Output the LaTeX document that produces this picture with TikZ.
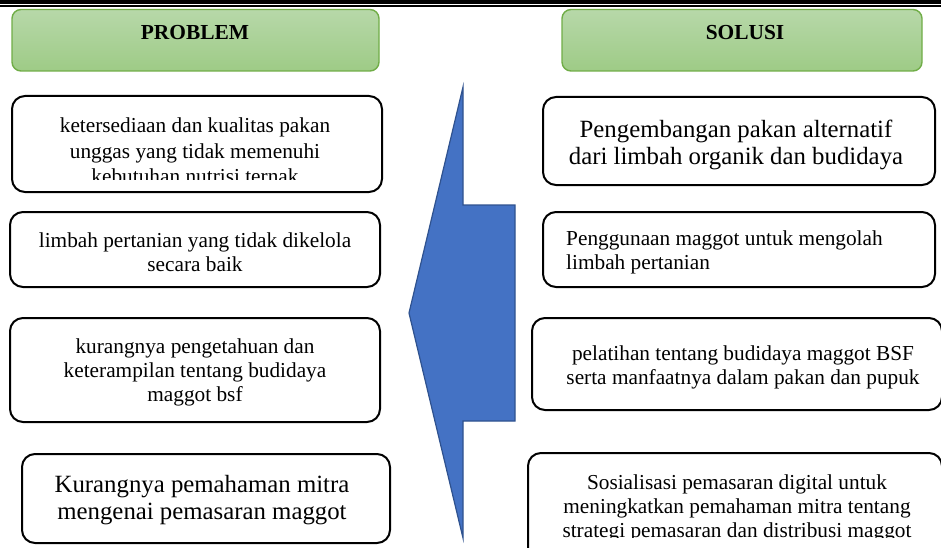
\documentclass[tikz,border=0pt]{standalone}
\usepackage{fontspec}
\setmainfont{Liberation Serif}
\definecolor{hdrtop}{HTML}{B7D8A9}
\definecolor{hdrbot}{HTML}{9ECB86}
\definecolor{hdrline}{HTML}{70AD47}
\definecolor{arrowfill}{HTML}{4472C4}
\definecolor{arrowline}{HTML}{2F528F}
\tikzset{
  hdrbox/.style={rounded corners=9pt, top color=hdrtop, bottom color=hdrbot, draw=hdrline, line width=1.4pt},
  itembox/.style={rounded corners=13pt, draw=black, line width=2pt, fill=white},
  smalltxt/.style={inner sep=0pt, align=center, font=\fontsize{21.3}{24}\selectfont},
  bigtxt/.style={inner sep=0pt, align=center, font=\fontsize{24.8}{26.5}\selectfont},
  hdrtxt/.style={inner sep=0pt, font=\fontsize{21.4}{24}\selectfont\bfseries},
}
\begin{document}
\begin{tikzpicture}[x=1pt,y=-1pt]
\useasboundingbox (0,0) rectangle (941,548);
\begin{scope}
\clip (0,0) rectangle (941,548);
% top rules
\fill[black] (0,0) rectangle (941,4.2);
\fill[black] (0,5.2) rectangle (941,6.8);
% headers
\path[hdrbox] (12,9.5) rectangle (379,71);
\node[hdrtxt] (hp) at (195,33) {PROBLEM};
\path[hdrbox] (562,9.5) rectangle (922,71);
\node[hdrtxt] (hs) at (745,33) {SOLUSI};
% arrow
\path[fill=arrowfill, draw=arrowline, line width=1.2pt, line join=miter]
  (463,87) -- (463,205) -- (515,205) -- (515,421) -- (463,421) -- (463,538) -- (409,313) -- cycle;
% left boxes
\path[itembox] (12,96) rectangle (382,192);
\begin{scope}
\clip (14,98) rectangle (380,179);
\node[smalltxt, font=\fontsize{21.3}{25.5}\selectfont] (l1) at (195,151) {ketersediaan dan kualitas pakan\\unggas yang tidak memenuhi\\kebutuhan nutrisi ternak};
\end{scope}
\path[itembox] (10,212) rectangle (380,287);
\node[smalltxt] (l2) at (195,252) {limbah pertanian yang tidak dikelola\\secara baik};
\path[itembox] (10,318) rectangle (380,422);
\node[smalltxt] (l3) at (195,372) {kurangnya pengetahuan dan\\keterampilan tentang budidaya\\maggot bsf};
\path[itembox] (22,454) rectangle (390,543);
\node[bigtxt] (l4) at (202,500) {Kurangnya pemahaman mitra\\mengenai pemasaran maggot};
% right boxes
\path[itembox] (543,97) rectangle (935,185);
\node[bigtxt] (r1) at (736,145) {Pengembangan pakan alternatif\\dari limbah organik dan budidaya};
\path[itembox] (543,212) rectangle (935,287);
\node[smalltxt, align=left, anchor=west] (r2) at (566,252) {Penggunaan maggot untuk mengolah\\limbah pertanian};
\path[itembox] (532,318) rectangle (942,410);
\node[smalltxt] (r3) at (743,367) {pelatihan tentang budidaya maggot BSF\\serta manfaatnya dalam pakan dan pupuk};
\path[itembox] (528,453) rectangle (942,570);
\begin{scope}
\clip (530,455) rectangle (941,537);
\node[smalltxt] (r4) at (737,508) {Sosialisasi pemasaran digital untuk\\meningkatkan pemahaman mitra tentang\\strategi pemasaran dan distribusi maggot};
\end{scope}
\end{scope}
\end{tikzpicture}
\end{document}
